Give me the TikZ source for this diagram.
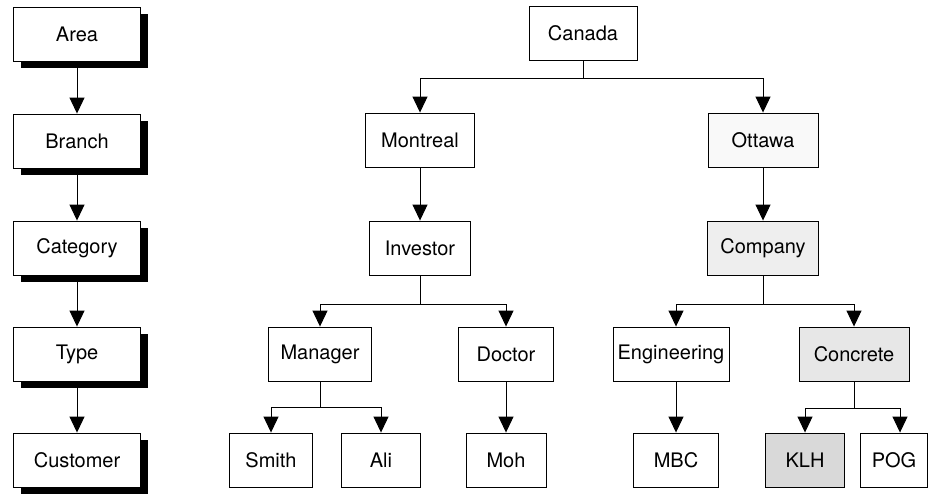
\documentclass[tikz,border=0pt]{standalone}
\usepackage{fontspec}
\setmainfont{TeX Gyre Heros}
\usetikzlibrary{arrows.meta,shadows}
\begin{document}
\begin{tikzpicture}[x=1pt,y=-1pt,
  box/.style={draw=black, line width=0.9pt, fill=white, minimum height=54pt,
    inner sep=0pt, font=\fontsize{20}{23}\selectfont},
  levelbox/.style={box, minimum width=127pt,
    drop shadow={shadow xshift=7pt, shadow yshift=-7pt, fill=black, opacity=1}},
  link/.style={line width=1pt},
  arr/.style={link, -{Triangle[width=15pt,length=16pt]}},
  shadeA/.style={fill=gray!5},
  shadeB/.style={fill=gray!13},
  shadeC/.style={fill=gray!19},
  shadeD/.style={fill=gray!30},
]
\useasboundingbox (0,0) rectangle (928,496);

% ---- hierarchy levels ----
\node[levelbox] (area)     at (77,34)  {Area};
\node[levelbox] (branch)   at (77,141) {Branch};
\node[levelbox] (category) at (77,248) {Category};
\node[levelbox] (type)     at (77,354) {Type};
\node[levelbox] (customer) at (77,460) {Customer};

\draw[arr] (area.south)     -- (branch.north);
\draw[arr] (branch.south)   -- (category.north);
\draw[arr] (category.south) -- (type.north);
\draw[arr] (type.south)     -- (customer.north);

% ---- tree of instances ----
\node[box, minimum width=108pt] (canada)   at (583,33)  {Canada};
\node[box, minimum width=109pt] (montreal) at (420,140) {Montreal};
\node[box, minimum width=110pt, shadeA] (ottawa) at (763,140) {Ottawa};
\node[box, minimum width=101pt] (investor) at (420,248) {Investor};
\node[box, minimum width=111pt, shadeB] (company) at (763,248) {Company};
\node[box, minimum width=103pt] (manager)  at (320,354) {Manager};
\node[box, minimum width=95pt]  (doctor)   at (506,354) {Doctor};
\node[box, minimum width=116pt] (engineering) at (671,354) {Engineering};
\node[box, minimum width=110pt, shadeC] (concrete) at (854,354) {Concrete};
\node[box, minimum width=83pt]  (smith) at (271,460) {Smith};
\node[box, minimum width=79pt]  (ali)   at (381,460) {Ali};
\node[box, minimum width=80pt]  (moh)   at (506,460) {Moh};
\node[box, minimum width=85pt]  (mbc)   at (676,460) {MBC};
\node[box, minimum width=79pt, shadeD] (klh) at (805,460) {KLH};
\node[box, minimum width=67pt]  (pog)   at (894,460) {POG};

% junction points of the branching connectors
\coordinate (jcanada)   at (583,78);
\coordinate (jinvestor) at (420,304);
\coordinate (jcompany)  at (763,304);
\coordinate (jmanager)  at (320,407);
\coordinate (jconcrete) at (854,408);

\draw[link] (canada.south) -- (jcanada);
\draw[arr] (jcanada) -| (montreal.north);
\draw[arr] (jcanada) -| (ottawa.north);

\draw[arr] (montreal.south) -- (investor.north);
\draw[arr] (ottawa.south) -- (company.north);

\draw[link] (investor.south) -- (jinvestor);
\draw[arr] (jinvestor) -| (manager.north);
\draw[arr] (jinvestor) -| (doctor.north);

\draw[link] (company.south) -- (jcompany);
\draw[arr] (jcompany) -| ([xshift=5pt]engineering.north);
\draw[arr] (jcompany) -| (concrete.north);

\draw[link] (manager.south) -- (jmanager);
\draw[arr] (jmanager) -| (smith.north);
\draw[arr] (jmanager) -| (ali.north);

\draw[arr] (doctor.south) -- (moh.north);
\draw[arr] ([xshift=5pt]engineering.south) -- (mbc.north);

\draw[link] (concrete.south) -- (jconcrete);
\draw[arr] (jconcrete) -| (klh.north);
\draw[arr] (jconcrete) -| ([xshift=6pt]pog.north);
\end{tikzpicture}
\end{document}
